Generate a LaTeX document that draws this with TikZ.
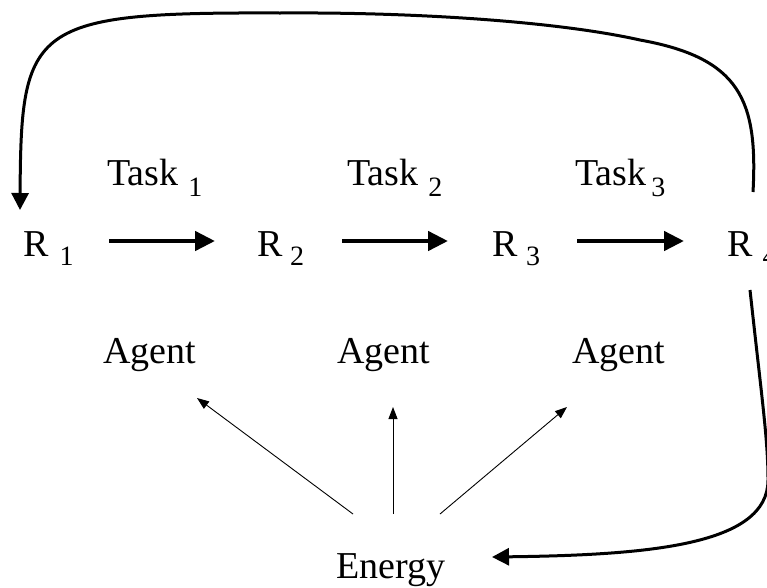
\documentclass[tikz,border=0pt]{standalone}
\usepackage{fontspec}
\setmainfont{Liberation Serif}
\usetikzlibrary{arrows.meta}
\newcommand\mysub[3]{\hspace{#1}\raisebox{-#2}{\fontsize{28}{28}\selectfont #3}}
\begin{document}
\begin{tikzpicture}[x=1pt,y=-1pt,
 lbl/.style={inner sep=0pt, anchor=base west, font=\fontsize{38}{40}\selectfont},
 flow/.style={line width=4.5pt, -{Triangle[length=20pt,width=19pt]}},
 loopline/.style={line width=3pt, -{Triangle[length=17pt,width=17pt]}},
 feed/.style={line width=0.9pt, -{Triangle[length=12pt,width=9pt]}}]
\useasboundingbox (0,0) rectangle (767,587);
\clip (0,0) rectangle (767,587);
\node[lbl] (r1) at (23,256) {R\mysub{11pt}{9pt}{1}};
\node[lbl] (r2) at (257,256) {R\mysub{7.5pt}{9pt}{2}};
\node[lbl] (r3) at (492,256) {R\mysub{8.5pt}{9pt}{3}};
\node[lbl] (r4) at (727,256) {R\mysub{10pt}{9pt}{4}};
\node[lbl] (t1) at (107,185) {Task\mysub{10pt}{11pt}{1}};
\node[lbl] (t2) at (347,185) {Task\mysub{10pt}{11pt}{2}};
\node[lbl] (t3) at (575,185) {Task\mysub{5pt}{11pt}{3}};
\node[lbl] (a1) at (103,363) {Agent};
\node[lbl] (a2) at (337,363) {Agent};
\node[lbl] (a3) at (572,363) {Agent};
\node[lbl] (en) at (336,578) {Energy};
% arrow endpoints
\coordinate (f1s) at (109,241); \coordinate (f1e) at (215,241);
\coordinate (f2s) at (342,241); \coordinate (f2e) at (448,241);
\coordinate (f3s) at (577,241); \coordinate (f3e) at (684,241);
\coordinate (lps) at (753,192); \coordinate (lpe) at (20,210);
\coordinate (ens) at (750,290); \coordinate (ene) at (492,557);
\coordinate (g1s) at (353,514); \coordinate (g1e) at (197,398);
\coordinate (g2s) at (393,514); \coordinate (g2e) at (393,407);
\coordinate (g3s) at (440,514); \coordinate (g3e) at (567,407);
\draw[flow] (f1s) -- (f1e);
\draw[flow] (f2s) -- (f2e);
\draw[flow] (f3s) -- (f3e);
\draw[loopline] (lps) .. controls (758,100) and (740,58) .. (640,40)
  .. controls (560,22) and (420,12) .. (280,13)
  .. controls (30,12) and (21,25) .. (lpe);
\draw[loopline] (ens) .. controls (762,400) and (768,440) .. (768,480)
  .. controls (768,545) and (650,555) .. (ene);
\draw[feed] (g1s) -- (g1e);
\draw[feed] (g2s) -- (g2e);
\draw[feed] (g3s) -- (g3e);
\end{tikzpicture}
\end{document}
